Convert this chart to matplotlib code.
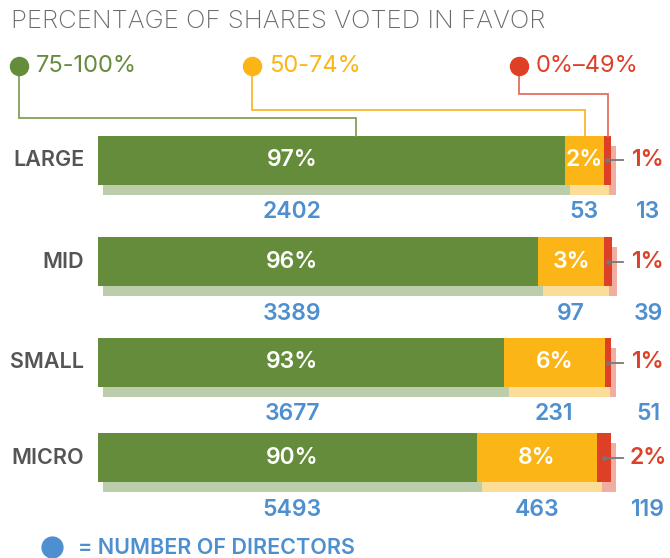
import matplotlib
matplotlib.use("Agg")
from matplotlib import pyplot as plt

plt.rcParams['font.family'] = ['Inter', 'DejaVu Sans']

# data
categories = ['LARGE', 'MID', 'SMALL', 'MICRO']
pct_high = ['97%', '96%', '93%', '90%']      # 75-100% in favour
pct_mid = ['2%', '3%', '6%', '8%']           # 50-74%
pct_low = ['1%', '1%', '1%', '2%']           # 0%-49%
dir_high = [2402, 3389, 3677, 5493]          # number of directors
dir_mid = [53, 97, 231, 463]
dir_low = [13, 39, 51, 119]
# drawn segment lengths (the picture does not draw them to scale)
len_high = [91.0, 85.8, 79.1, 73.9]
len_mid = [7.6, 12.9, 19.7, 23.4]
len_low = [1.4, 1.4, 1.2, 2.7]
legend_labels = ['75-100%', '50-74%', '0%\u201349%']

GREEN, YELLOW, RED = '#658c3b', '#fbb516', '#de4027'
LGREEN, LYELLOW, LRED = '#bccdac', '#fcdd97', '#f0ada2'
LINE_COLS = ['#7ea05c', '#fbb82a', '#e2705f']
BLUE = '#4d8fcf'
GRAY = '#555555'

W, H = 670, 558
fig = plt.figure(figsize=(W / 100, H / 100), dpi=100)

# bar axes: x in bar units (0-100 spans 98..611 px), y in pixels
x0, bar_w = 98, 513
unit = bar_w / 100.0
ax = fig.add_axes([0, 0, 1, 1])
ax.set_xlim(-x0 / unit, (W - x0) / unit)
ax.set_ylim(H, 0)
ax.axis('off')

def px(x):
    return (x - x0) / unit

rows_y = [160, 261.5, 362.5, 457.5]
bar_h = 49
sh_dx, sh_dy = 5 / unit, 10

left_mid = [a for a in len_high]
left_low = [a + b for a, b in zip(len_high, len_mid)]
sh_y = [y + sh_dy for y in rows_y]

# shadow bars
ax.barh(sh_y, len_high, left=sh_dx, height=bar_h, color=LGREEN, zorder=1)
ax.barh(sh_y, len_mid, left=[l + sh_dx for l in left_mid], height=bar_h, color=LYELLOW, zorder=1)
ax.barh(sh_y, len_low, left=[l + sh_dx for l in left_low], height=bar_h, color=LRED, zorder=1)
# main bars
ax.barh(rows_y, len_high, left=0, height=bar_h, color=GREEN, zorder=2)
ax.barh(rows_y, len_mid, left=left_mid, height=bar_h, color=YELLOW, zorder=2)
ax.barh(rows_y, len_low, left=left_low, height=bar_h, color=RED, zorder=2)

green_x = px(292)
red_x = px(648)
fs = 16.5
for i, y in enumerate(rows_y):
    ax.text(px(84), y, categories[i], ha='right', va='center', fontsize=15.5,
            fontweight='semibold', color=GRAY)
    ax.text(green_x, y, pct_high[i], ha='center', va='center', fontsize=fs,
            fontweight='semibold', color='white', zorder=3)
    mid_c = left_mid[i] + len_mid[i] / 2
    ax.text(mid_c, y, pct_mid[i], ha='center', va='center', fontsize=fs,
            fontweight='semibold', color='white', zorder=3)
    low_c = left_low[i] + len_low[i] / 2
    ax.plot([low_c, px(623)], [y, y], color='#777777', lw=1.3, zorder=4)
    ax.plot([low_c], [y], 'o', color='#777777', ms=2.5, zorder=4)
    ax.text(red_x, y, pct_low[i], ha='center', va='center', fontsize=fs,
            fontweight='semibold', color=RED)
    ny = y + 52
    ax.text(green_x, ny, str(dir_high[i]), ha='center', va='center', fontsize=fs,
            fontweight='semibold', color=BLUE)
    ax.text(mid_c, ny, str(dir_mid[i]), ha='center', va='center', fontsize=fs,
            fontweight='semibold', color=BLUE)
    ax.text(red_x, ny, str(dir_low[i]), ha='center', va='center', fontsize=fs,
            fontweight='semibold', color=BLUE)

# overlay in pixel coordinates for title, legend and footer
ov = fig.add_axes([0, 0, 1, 1], zorder=5)
ov.set_xlim(0, W)
ov.set_ylim(H, 0)
ov.axis('off')
ov.patch.set_alpha(0)

ov.text(11, 22, 'PERCENTAGE OF SHARES VOTED IN FAVOR', ha='left', va='center',
        fontsize=18.5, fontweight='light', color='#6a6a6a')

dot_x = [19, 252, 519]
text_x = [36, 269, 536]
elbow_y = [118, 110, 94]
hit_x = [356, 585, 607.5]
leg_cols = [GREEN, YELLOW, RED]
for i in range(3):
    ov.plot([dot_x[i], dot_x[i], hit_x[i], hit_x[i]], [66, elbow_y[i], elbow_y[i], 136],
            color=LINE_COLS[i], lw=1.3, zorder=1, solid_joinstyle='miter')
    ov.plot([dot_x[i]], [66], 'o', color=leg_cols[i], ms=13, zorder=2)
    ov.text(text_x[i], 66, legend_labels[i], ha='left', va='center', fontsize=17,
            color=leg_cols[i])

ov.plot([52], [547], 'o', color=BLUE, ms=15)
ov.text(78, 548, '= NUMBER OF DIRECTORS', ha='left', va='center', fontsize=15.5,
        fontweight='semibold', color=BLUE)

fig.savefig('out.png', dpi=100)
